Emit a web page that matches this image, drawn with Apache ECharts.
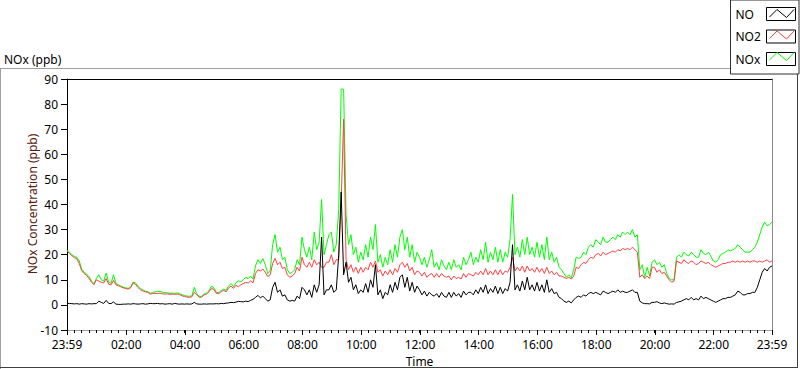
<!DOCTYPE html>
<html><head><meta charset="utf-8">
<script src="https://cdn.jsdelivr.net/npm/echarts@6/dist/echarts.min.js"></script>
<style>html,body{margin:0;padding:0;background:#fff}#c{width:800px;height:369px}</style>
</head><body><div id="c"></div>
<script>
// ---- data (5-minute samples starting at 23:59) ----
const seriesNames = ['NO', 'NO2', 'NOx'];
const stepMinutes = 5;
const xTickLabels = ['23:59','02:00','04:00','06:00','08:00','10:00','12:00','14:00','16:00','18:00','20:00','22:00','23:59'];
const yTickValues = [-10,0,10,20,30,40,50,60,70,80,90];
const yAxisTitle = 'NOx Concentration (ppb)';

const noValues = [
 0.5,0.6,0.5,0.4,0.5,0.3,0.5,0.4,0.3,0.5,0.4,0.5,
 0.5,1.5,1,0.6,1.8,0.6,0.5,1.2,0.3,0.2,0.2,0.3,
 0.3,0.4,0.3,0.5,0.4,0.3,0.4,0.5,0.3,0.4,0.6,0.5,
 0.5,0.6,0.4,0.5,0.3,0.4,0.5,0.3,0.6,0.4,0.3,0.4,
 0.3,0.4,0.3,0.4,1.0,0.4,0.3,0.3,0.4,0.3,0.4,0.4,
 0.4,0.5,0.4,0.6,0.5,0.7,0.8,1.0,0.9,1.1,1.4,1.3,
 1.2,1.5,1.3,1.8,2.2,3.0,3.8,2.8,3.5,2.5,1.5,2.0,
 7,9,5,6,3.5,4,2,1.5,1.8,1.5,3.5,2.5,
 7,6,4,6,3,8,5,8,27,4,6,6,
 8,5,6,20,45,12,17,9,11,6,8,4.5,
 6,5,8.5,5,10,7,16,4,6,2.5,5,4,
 8,5,9,6,11,12,7,11,5.5,9,5,7.5,
 6,4,5.5,3.5,5,4,3.5,4.5,3,5,3.5,3,
 5,3,5,3.5,4.5,3,5.5,4,5,5,4,6,
 4.5,7,5,8,4.5,6.5,5,7.5,4.5,7,4.5,6.5,
 5.5,9,24,6,8,5.5,9.5,6,11,6,8,5.5,
 9,5.5,8,5,10,5,6.5,4.5,5,3,2.5,1.5,
 1,1.5,0.8,2,3,3.5,3,4,3.5,4.5,5,4.5,
 5,4.5,4,5.5,5,4.5,5,5.5,5,6,5,5.5,
 5,5,5.5,6,5,5,1.5,0.8,0.5,0.5,0.4,1,
 1,1.3,0.8,0.5,0.8,0.5,0.3,0.4,0.3,1,1.2,1.5,
 2,2.5,2,3,2,2.5,2,3.5,2.5,3,2.5,2,
 1.5,1,1.5,2,2.5,2.5,3,3,3.5,4,5.5,5,
 4,4,4.5,4.5,5,5,7,10,13,14.5,13.5,15,15.5
];
const no2Values = [
 21.5,20.5,19.6,18.8,18.4,16.5,13.6,12.5,11.8,10.5,9,8,
 10,9.5,9,8.8,10.5,8.2,8,9.8,8,7.6,7.2,6.8,
 6.5,6.3,6.8,8.8,8.2,6.9,6,5.6,5.2,5,4.3,4.5,
 4.6,4.5,4.7,4.4,4.3,4.4,4.2,4.3,4.2,4.3,4.1,3.6,
 3.4,3.1,3.0,3.2,5,4,3.0,3.1,4.0,4.3,5.2,6.5,
 6.2,4.6,4.5,5.3,5.8,5.2,6.8,7.5,6.6,7.8,7.2,8,
 8.5,9,8.7,9.5,8.8,12.5,14,13.5,14.3,13,11.3,12,
 16.5,18.5,16,17,14.5,15,12,11,11.5,12.5,15,13.5,
 19,16,15,17,15,18,16,17,15,15,17,17,
 20,16,18,18,41,74,18,14,16,13,15,12.5,
 15,13,15,14,17,15,17.5,13,14,11.5,13.5,12,
 14,12,14.5,13,16,17,15,16.5,13.5,15,12,13.5,
 13,11.5,13,11,12,12.5,11,12.5,11,12.5,11.5,11,
 11.5,10,11.5,10.5,11,10.3,12.5,11,12.5,12,11.5,13,
 12,13.5,12,14.5,12,13.5,12,14,12,14,12,13.5,
 13,15,19,13.5,15,13.5,15.5,13,15.5,13.5,14.5,13,
 15,13,14.5,12.5,15,12.5,13.5,12,13,11.5,11.5,11,
 10.5,11,10.3,11.5,15,14.5,16,17,16.5,18,19,18.5,
 20,20.5,19.5,21,20,20.5,21,21.5,21,22,21.5,22.5,
 22,22.5,22,23,22,21,11,12,10.5,11.5,10.5,15,
 15,13,14,12.5,13,11.5,10,9,9.5,17.5,17,16.5,
 18,17,16.5,17.5,17,16,16.5,17.5,17,16.5,17,16,
 15.5,15,15.5,16,16.5,16.5,17,17,17.5,17,17.5,17,
 17.5,17,17.5,17,17.5,17.5,17,17.5,17,17.5,18,17,17.5
];
const noxValues = [
 22,21,20,19.3,19,17.5,14.3,13,12.3,11.2,9.5,8.5,
 10.5,12,10,9.5,12.7,9,8.6,12,8.5,8,7.5,7.1,
 6.8,6.6,7,9.1,8.8,7.4,6.5,6,5.4,5.3,4.6,5,
 5.2,5.3,5.4,5,4.9,4.8,4.6,4.7,4.6,4.8,4.5,4,
 3.8,3.5,3.4,3.6,7,4.5,3.3,3.4,4.3,4.8,5.6,7.5,
 6.8,5,4.9,5.7,6.3,5.8,7.5,8.5,7.3,8.8,9.6,9.2,
 10,11,10.5,11.5,10.3,15.5,18,16.5,18.5,16,12.5,13.5,
 24,28,21,23,18,19,14,12.5,13,14,18,16,
 27,22,19,23,18,29,22,25,42,20,24,28,
 29,21,24,38,86,86,36,24,28,20,23,17,
 21,18,24,19,27,22,32,17,20,15,19,16,
 22,17,24,19,27,30,22,27,19,24,17,21,
 19,16,19,15,18,22,15,17,14,18,15.5,14,
 17,14,18,15,16,14,19,16,18,21,16,19,
 17,22,18,25,17,21,18,23,17,22,17,21,
 19,26,44,20,23,19,26,20,27,20,23,19,
 25,19,24,18,27,18,21,17,19,15,14,12.5,
 11,12,10.8,14,19,18.5,19,21,20,23,24,23,
 26,25,24,27,25,25,26,27,26,28,27,29,
 28,29,28,30,27,28,14,16,11,15,11.5,17,
 18,16,17,15,16,12.5,10.5,10,10,19,20,19,
 21,20,19.5,21,20,19,19,22,20.5,20,21,19.5,
 17.5,17,18,20,20.5,21,22,21.5,22,22.5,24,23,
 22,21,21,21,22,23,25,28,31,33,31.5,32,33
];

// ---- helpers ----
const FONT = 'Noto Sans';
const seriesColors = { 'NO': '#000000', 'NO2': '#ff4040', 'NOx': '#00ff00' };
const seriesValues = { 'NO': noValues, 'NO2': no2Values, 'NOx': noxValues };
const spanMinutes = 1440;
function labelToMinutes(lbl, idx) {
  if (idx === 0) return 0;
  if (idx === xTickLabels.length - 1) return spanMinutes;
  const [h, m] = lbl.split(':').map(Number);
  return h * 60 + m + 1;
}
const xTickPos = xTickLabels.map(labelToMinutes);
const labelByPos = {};
xTickPos.forEach((p, i) => { labelByPos[p] = xTickLabels[i]; });
const minorPos = [];
for (let m = 0; m <= spanMinutes; m += 15) minorPos.push(m);

const chart = echarts.init(document.getElementById('c'), null, { renderer: 'svg' });

// draw order: NOx below, NO2, NO on top
const drawOrder = ['NOx', 'NO2', 'NO'];
const series = drawOrder.map(name => ({
  name, type: 'line', xAxisIndex: 0, yAxisIndex: 0,
  data: seriesValues[name].map((v, i) => [i * stepMinutes, v]),
  symbol: 'none', showSymbol: false,
  lineStyle: { color: seriesColors[name], width: 1 },
  itemStyle: { color: seriesColors[name] },
  emphasis: { disabled: true }, silent: true
}));

// legend icon zigzags (decoration inside the legend boxes)
const legendTop = 7, legendItemH = 13, legendGap = 8.5, iconLeft = 767;
const zig = [[2.5, 10], [10, 2.5], [19.5, 10.5], [27, 2.5]];
const zigGraphics = seriesNames.map((name, i) => ({
  type: 'polyline', z: 100, silent: true,
  shape: { points: zig.map(p => [iconLeft + p[0], legendTop + i * (legendItemH + legendGap) + p[1]]) },
  style: { stroke: seriesColors[name], lineWidth: 1, fill: null }
}));

chart.setOption({
  animation: false,
  backgroundColor: '#ffffff',
  textStyle: { fontFamily: FONT },
  grid: { left: 67, right: 28, top: 79, bottom: 39, containLabel: false, outerBoundsMode: 'none' },
  legend: {
    data: seriesNames, orient: 'vertical', right: 1, top: 0,
    padding: [legendTop, 3, 8, 5], itemWidth: 29, itemHeight: legendItemH, itemGap: legendGap,
    align: 'right', icon: 'rect', selectedMode: false,
    itemStyle: { color: '#ffffff', borderColor: '#000000', borderWidth: 1 },
    backgroundColor: '#ffffff', borderColor: '#303030', borderWidth: 1,
    formatter: '{t|{name}}',
    textStyle: { color: '#000', fontSize: 12, fontFamily: FONT,
      rich: { t: { width: 26, align: 'left', fontSize: 12, lineHeight: 13, fontFamily: FONT, color: '#000' } } }
  },
  xAxis: [
    { type: 'value', min: 0, max: spanMinutes, position: 'bottom',
      name: 'Time', nameLocation: 'middle', nameGap: 25, nameMoveOverlap: false,
      nameTextStyle: { color: '#000', fontSize: 12, fontFamily: FONT },
      axisLine: { show: true, onZero: false, lineStyle: { color: '#a0a0a0', width: 1 } },
      axisTick: { show: true, customValues: xTickPos, length: 5, lineStyle: { color: '#000' } },
      axisLabel: { show: true, customValues: xTickPos, margin: 8, color: '#000', fontSize: 12, fontFamily: FONT,
        formatter: v => labelByPos[v] !== undefined ? labelByPos[v] : '' },
      splitLine: { show: false } },
    { type: 'value', min: 0, max: spanMinutes, position: 'bottom',
      axisLine: { show: false, onZero: false },
      axisTick: { show: true, customValues: minorPos, length: 3, lineStyle: { color: '#000' } },
      axisLabel: { show: false }, splitLine: { show: false } },
    { type: 'value', min: 0, max: spanMinutes, position: 'top',
      axisLine: { show: true, onZero: false, lineStyle: { color: '#000', width: 1 } },
      axisTick: { show: false }, axisLabel: { show: false }, splitLine: { show: false } }
  ],
  yAxis: [
    { type: 'value', min: yTickValues[0], max: yTickValues[yTickValues.length - 1], interval: 10, position: 'left',
      axisLine: { show: true, onZero: false, lineStyle: { color: '#000', width: 1 } },
      axisTick: { show: true, length: 6, lineStyle: { color: '#000' } },
      axisLabel: { margin: 9, color: '#000', fontSize: 12, fontFamily: FONT },
      splitLine: { show: false } },
    { type: 'value', min: yTickValues[0], max: yTickValues[yTickValues.length - 1], interval: 10, position: 'right',
      axisLine: { show: true, onZero: false, lineStyle: { color: '#8c8c8c', width: 1 } },
      axisTick: { show: false }, axisLabel: { show: false }, splitLine: { show: false } }
  ],
  graphic: [
    { type: 'text', left: 4, top: 53, style: { text: 'NOx (ppb)', fill: '#000', font: '12px "Noto Sans"' } },
    { type: 'text', x: 32, y: 204, rotation: Math.PI / 2, silent: true,
      style: { text: yAxisTitle, fill: '#5a200c', font: '12px "Noto Sans"', align: 'center', verticalAlign: 'middle' } },
    { type: 'line', silent: true, shape: { x1: 0, y1: 68.5, x2: 730, y2: 68.5 }, style: { stroke: '#a0a0a0', lineWidth: 1 } },
    { type: 'line', silent: true, shape: { x1: 0.5, y1: 68, x2: 0.5, y2: 369 }, style: { stroke: '#a0a0a0', lineWidth: 1 } },
    { type: 'line', silent: true, shape: { x1: 797.5, y1: 71, x2: 797.5, y2: 368 }, style: { stroke: '#404040', lineWidth: 1 } },
    { type: 'line', silent: true, shape: { x1: 0, y1: 367.5, x2: 798, y2: 367.5 }, style: { stroke: '#404040', lineWidth: 1 } }
  ].concat(zigGraphics),
  series
});
</script>
</body></html>
